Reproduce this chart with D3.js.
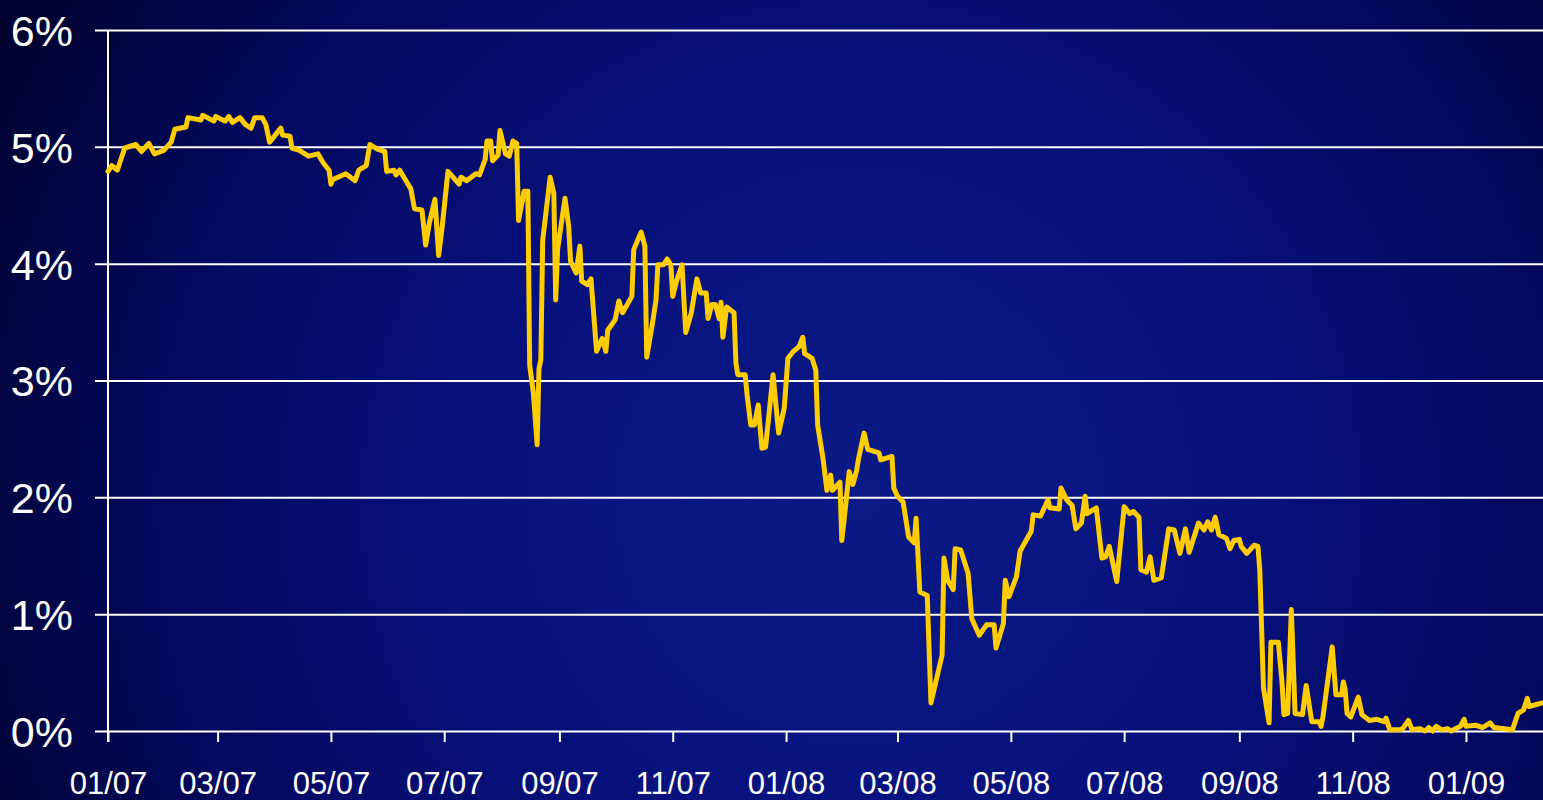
<!DOCTYPE html>
<html>
<head>
<meta charset="utf-8">
<script src="https://cdn.jsdelivr.net/npm/d3@7"></script>
<style>
html,body{margin:0;padding:0;background:#02033a;overflow:hidden;}
svg{display:block;}
text{font-family:"Liberation Sans",Arial,sans-serif;fill:#ffffff;}
</style>
</head>
<body>
<svg id="chart" width="1543" height="800"></svg>
<script>
// ---- Data ----
const dates = [
"2007-01-01","2007-01-03","2007-01-06","2007-01-10","2007-01-16","2007-01-19","2007-01-23","2007-01-26","2007-01-31",
"2007-02-04","2007-02-06","2007-02-12","2007-02-13","2007-02-20","2007-02-21","2007-02-27","2007-02-28",
"2007-03-05","2007-03-07","2007-03-09","2007-03-13","2007-03-16","2007-03-19","2007-03-21","2007-03-25","2007-03-27","2007-03-29",
"2007-04-04","2007-04-05","2007-04-09","2007-04-10","2007-04-14","2007-04-19","2007-04-24","2007-04-27","2007-04-30",
"2007-05-01","2007-05-02","2007-05-09","2007-05-14","2007-05-16","2007-05-20","2007-05-22","2007-05-26","2007-05-30","2007-05-31",
"2007-06-04","2007-06-05","2007-06-07","2007-06-10","2007-06-13","2007-06-15","2007-06-19","2007-06-21","2007-06-23","2007-06-26","2007-06-28","2007-06-30",
"2007-07-03","2007-07-09","2007-07-10","2007-07-13","2007-07-18","2007-07-20","2007-07-23","2007-07-24","2007-07-26","2007-07-27","2007-07-30","2007-07-31",
"2007-08-03","2007-08-05","2007-08-07","2007-08-09","2007-08-10","2007-08-13","2007-08-15","2007-08-16","2007-08-18","2007-08-20","2007-08-21","2007-08-22","2007-08-23","2007-08-27","2007-08-29","2007-08-30","2007-08-31",
"2007-09-04","2007-09-06","2007-09-07","2007-09-10","2007-09-12","2007-09-13","2007-09-16","2007-09-18","2007-09-21","2007-09-24","2007-09-26","2007-09-27",
"2007-10-01","2007-10-03","2007-10-05","2007-10-10","2007-10-11","2007-10-15","2007-10-17","2007-10-18","2007-10-21","2007-10-23","2007-10-24","2007-10-27","2007-10-29","2007-10-31",
"2007-11-01","2007-11-03","2007-11-06","2007-11-08","2007-11-11","2007-11-14","2007-11-16","2007-11-19","2007-11-20","2007-11-22","2007-11-24","2007-11-26","2007-11-27","2007-11-28","2007-11-30",
"2007-12-04","2007-12-05","2007-12-06","2007-12-10","2007-12-11","2007-12-13","2007-12-15","2007-12-17","2007-12-19","2007-12-21","2007-12-25","2007-12-28","2007-12-31",
"2008-01-02","2008-01-05","2008-01-08","2008-01-10","2008-01-11","2008-01-15","2008-01-17","2008-01-18","2008-01-21","2008-01-23","2008-01-25","2008-01-26","2008-01-30","2008-01-31",
"2008-02-02","2008-02-04","2008-02-06","2008-02-08","2008-02-09","2008-02-12","2008-02-14","2008-02-20","2008-02-21","2008-02-27","2008-02-28",
"2008-03-01","2008-03-04","2008-03-07","2008-03-10","2008-03-11","2008-03-13","2008-03-17","2008-03-19","2008-03-25","2008-03-26","2008-03-28","2008-03-31",
"2008-04-01","2008-04-04","2008-04-08","2008-04-10","2008-04-14","2008-04-18","2008-04-22","2008-04-23","2008-04-27","2008-04-28","2008-04-30",
"2008-05-04","2008-05-06","2008-05-12","2008-05-13","2008-05-17","2008-05-21","2008-05-22","2008-05-27","2008-05-28","2008-05-31",
"2008-06-03","2008-06-05","2008-06-08","2008-06-10","2008-06-11","2008-06-16","2008-06-19","2008-06-21","2008-06-23","2008-06-27",
"2008-07-01","2008-07-04","2008-07-06","2008-07-09","2008-07-10","2008-07-13","2008-07-15","2008-07-17","2008-07-21","2008-07-25","2008-07-28","2008-07-31",
"2008-08-03","2008-08-05","2008-08-10","2008-08-13","2008-08-15","2008-08-17","2008-08-19","2008-08-21","2008-08-25","2008-08-27","2008-08-29",
"2008-09-01","2008-09-02","2008-09-05","2008-09-09","2008-09-11","2008-09-12","2008-09-14","2008-09-17","2008-09-18","2008-09-22","2008-09-24","2008-09-25","2008-09-27","2008-09-29",
"2008-10-01","2008-10-05","2008-10-07","2008-10-09","2008-10-10","2008-10-14","2008-10-15","2008-10-16","2008-10-21","2008-10-23","2008-10-26","2008-10-27","2008-10-28","2008-10-29","2008-10-31",
"2008-11-04","2008-11-06","2008-11-10","2008-11-14","2008-11-18","2008-11-19","2008-11-21","2008-11-26","2008-11-28",
"2008-12-01","2008-12-03","2008-12-07","2008-12-10","2008-12-12","2008-12-14","2008-12-16","2008-12-19","2008-12-22","2008-12-24","2008-12-29","2008-12-31",
"2009-01-01","2009-01-06","2009-01-10","2009-01-14","2009-01-16","2009-01-26","2009-01-29","2009-02-01","2009-02-03","2009-02-04","2009-02-11"
];
const yields = [
4.79,4.84,4.80,4.99,5.02,4.96,5.03,4.94,4.97,
5.04,5.15,5.17,5.25,5.23,5.27,5.22,5.26,
5.22,5.26,5.21,5.25,5.19,5.16,5.25,5.25,5.19,5.04,
5.16,5.10,5.09,4.99,4.97,4.92,4.94,4.86,4.80,
4.68,4.72,4.77,4.71,4.80,4.84,5.02,4.98,4.96,4.79,
4.80,4.76,4.80,4.72,4.64,4.47,4.46,4.16,4.35,4.55,4.07,4.33,
4.79,4.68,4.74,4.71,4.77,4.76,4.89,5.05,5.05,4.88,4.93,5.14,
4.94,4.92,5.05,5.03,4.37,4.62,4.62,3.13,2.89,2.45,3.10,3.18,4.20,4.74,4.60,3.69,4.12,
4.56,4.32,4.02,3.92,4.15,3.85,3.82,3.87,3.25,3.36,3.25,3.43,
3.52,3.68,3.58,3.72,4.12,4.27,4.15,3.20,3.48,3.69,3.99,3.99,4.04,3.99,
3.72,3.85,3.99,3.41,3.58,3.87,3.75,3.75,3.53,3.65,3.65,3.53,3.67,3.37,3.63,
3.58,3.15,3.05,3.05,2.88,2.62,2.62,2.79,2.42,2.43,3.05,2.55,2.76,
3.19,3.25,3.29,3.37,3.23,3.19,3.09,2.62,2.32,2.06,2.19,2.06,2.13,1.63,
1.92,2.22,2.11,2.23,2.33,2.55,2.41,2.38,2.32,2.35,2.08,
2.01,1.96,1.66,1.61,1.82,1.19,1.16,0.24,0.65,1.48,1.29,1.21,
1.56,1.55,1.35,0.96,0.82,0.91,0.91,0.71,0.92,1.29,1.15,
1.32,1.54,1.71,1.85,1.84,1.98,1.91,1.90,2.08,1.98,
1.93,1.73,1.78,2.01,1.86,1.91,1.48,1.49,1.58,1.28,
1.92,1.86,1.88,1.83,1.38,1.36,1.49,1.29,1.31,1.73,1.72,1.52,
1.73,1.53,1.78,1.72,1.79,1.72,1.83,1.68,1.65,1.56,1.63,
1.64,1.58,1.52,1.59,1.58,1.38,0.37,0.07,0.76,0.76,0.41,0.14,0.15,1.04,
0.15,0.14,0.39,0.18,0.08,0.08,0.04,0.12,0.72,0.31,0.31,0.42,0.35,0.15,0.12,
0.29,0.14,0.09,0.10,0.08,0.11,0.01,0.01,0.02,
0.09,0.01,0.02,0.00,0.03,0.00,0.04,0.01,0.02,0.00,0.04,0.10,
0.04,0.05,0.03,0.07,0.03,0.01,0.15,0.18,0.28,0.21,0.24
];
const yTicks = [0,1,2,3,4,5,6];
const xTickDates = ["2007-01-01","2007-03-01","2007-05-01","2007-07-01","2007-09-01","2007-11-01",
                    "2008-01-01","2008-03-01","2008-05-01","2008-07-01","2008-09-01","2008-11-01","2009-01-01"];
const xDomain = ["2007-01-01","2009-02-12"];

// ---- Drawing ----
const W = 1543, H = 800;
const parse = d3.timeParse("%Y-%m-%d");
const data = dates.map((d,i)=>({date:parse(d), v:yields[i]}));

const svg = d3.select("#chart");
const defs = svg.append("defs");
const rg = defs.append("radialGradient").attr("id","bg")
  .attr("gradientUnits","userSpaceOnUse")
  .attr("cx",860).attr("cy",500).attr("r",950);
rg.append("stop").attr("offset","0%").attr("stop-color","#0b1a86");
rg.append("stop").attr("offset","40%").attr("stop-color","#07117c");
rg.append("stop").attr("offset","72%").attr("stop-color","#040960");
rg.append("stop").attr("offset","100%").attr("stop-color","#010232");
svg.append("rect").attr("width",W).attr("height",H).attr("fill","url(#bg)");

defs.append("clipPath").attr("id","clip").append("rect")
  .attr("x",100).attr("y",0).attr("width",W-100).attr("height",H);

const x = d3.scaleTime().domain(xDomain.map(parse)).range([108,1544]);
const y = d3.scaleLinear().domain([0,6]).range([731,30]);

// gridlines + y labels
const yAxis = d3.axisLeft(y).tickValues(yTicks).tickSize(-(W-95)).tickFormat(d=>d+"%").tickPadding(22);
const gy = svg.append("g").attr("transform","translate(95,0)").call(yAxis);
gy.select(".domain").remove();
gy.selectAll(".tick line").attr("stroke","#ffffff").attr("stroke-width",2);
gy.selectAll(".tick text").attr("font-size",43).attr("fill","#fff")
  .attr("font-family","Liberation Sans, Arial, sans-serif").attr("dy","0.36em");

// x axis ticks + labels
const xAxis = d3.axisBottom(x).tickValues(xTickDates.map(parse)).tickFormat(d3.timeFormat("%m/%y"))
  .tickSize(11).tickPadding(30);
const gx = svg.append("g").attr("transform","translate(0,731)").call(xAxis);
gx.select(".domain").remove();
gx.selectAll(".tick line").attr("stroke","#ffffff").attr("stroke-width",2);
gx.selectAll(".tick text").attr("font-size",31).attr("fill","#fff")
  .attr("font-family","Liberation Sans, Arial, sans-serif");

// vertical axis line
svg.append("line").attr("x1",108).attr("x2",108).attr("y1",y(6)).attr("y2",742)
  .attr("stroke","#fff").attr("stroke-width",2);

// series line
const line = d3.line().x(d=>x(d.date)).y(d=>y(d.v)).curve(d3.curveLinear);
svg.append("path").datum(data).attr("clip-path","url(#clip)")
  .attr("d",line).attr("fill","none").attr("stroke","#ffcc00")
  .attr("stroke-width",5).attr("stroke-linejoin","round").attr("stroke-linecap","round");
</script>
</body>
</html>
